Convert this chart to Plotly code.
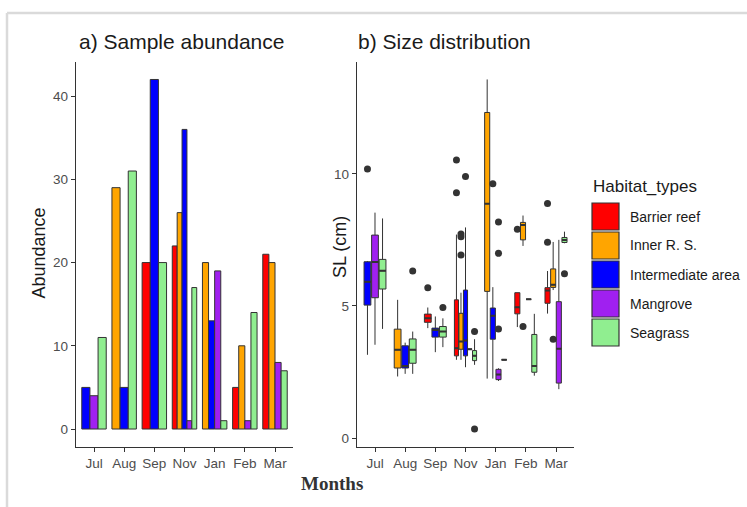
import plotly.graph_objects as go

W, H = 747, 507

months = ["Jul", "Aug", "Sep", "Nov", "Jan", "Feb", "Mar"]
habitats = ["Barrier reef", "Inner R. S.", "Intermediate area", "Mangrove", "Seagrass"]
habitat_colors = ["#FF0000", "#FFA500", "#0000FF", "#A020F0", "#90EE90"]

# Number of individuals sampled per habitat, one value per month
abund_barrier = [0, 0, 20, 22, 0, 5, 21]
abund_inner = [0, 29, 0, 26, 20, 10, 20]
abund_intermediate = [5, 5, 42, 36, 13, 0, 0]
abund_mangrove = [4, 0, 0, 1, 19, 1, 8]
abund_seagrass = [11, 31, 20, 17, 1, 14, 7]

# Standard length (cm) summary per month / habitat
box_month = ["Jul", "Jul", "Jul",
             "Aug", "Aug", "Aug",
             "Sep", "Sep", "Sep",
             "Nov", "Nov", "Nov", "Nov", "Nov",
             "Jan", "Jan", "Jan", "Jan",
             "Feb", "Feb", "Feb", "Feb",
             "Mar", "Mar", "Mar", "Mar"]
box_habitat = ["Intermediate area", "Mangrove", "Seagrass",
               "Inner R. S.", "Intermediate area", "Seagrass",
               "Barrier reef", "Intermediate area", "Seagrass",
               "Barrier reef", "Inner R. S.", "Intermediate area", "Mangrove", "Seagrass",
               "Inner R. S.", "Intermediate area", "Mangrove", "Seagrass",
               "Barrier reef", "Inner R. S.", "Mangrove", "Seagrass",
               "Barrier reef", "Inner R. S.", "Mangrove", "Seagrass"]
box_lower = [3.15, 3.53, 4.13,
             2.33, 2.43, 2.43,
             4.16, 3.25, 3.44,
             2.96, 2.96, 2.68, 3.36, 2.77,
             2.25, 2.25, 2.16, 2.96,
             4.20, 7.27, 5.25, 2.36,
             4.71, 5.60, 1.85, 7.37]
box_q1 = [5.03, 5.31, 5.64,
          2.65, 2.65, 2.83,
          4.38, 3.82, 3.82,
          3.11, 3.36, 3.11, 3.36, 2.93,
          5.55, 3.74, 2.21, 2.96,
          4.70, 7.50, 5.25, 2.49,
          5.10, 5.70, 2.08, 7.40]
box_median = [5.91, 6.66, 6.33,
              3.34, 2.73, 3.34,
              4.53, 4.09, 4.03,
              3.40, 3.65, 3.69, 3.36, 3.11,
              8.87, 4.63, 2.40, 2.96,
              4.95, 8.06, 5.25, 2.73,
              5.58, 5.80, 3.38, 7.49]
box_q3 = [6.67, 7.68, 6.76,
          4.12, 3.49, 3.75,
          4.69, 4.16, 4.22,
          5.23, 4.72, 5.60, 3.36, 3.31,
          12.32, 4.92, 2.60, 2.96,
          5.50, 8.16, 5.25, 3.92,
          5.69, 6.40, 5.16, 7.59]
box_upper = [6.70, 8.53, 8.31,
             5.23, 3.61, 4.03,
             4.94, 4.60, 4.53,
             7.70, 5.50, 7.97, 3.36, 3.74,
             13.57, 5.71, 2.64, 2.96,
             5.50, 8.42, 5.25, 4.70,
             6.32, 7.42, 7.50, 7.81]

# Outlying fish lengths (cm)
out_month = ["Jul", "Aug", "Sep", "Sep",
             "Nov", "Nov", "Nov", "Nov", "Nov", "Nov", "Nov", "Nov",
             "Jan", "Jan", "Jan", "Jan",
             "Feb", "Feb",
             "Mar", "Mar", "Mar", "Mar"]
out_habitat = ["Intermediate area", "Seagrass", "Barrier reef", "Seagrass",
               "Barrier reef", "Barrier reef", "Inner R. S.", "Inner R. S.", "Inner R. S.",
               "Intermediate area", "Seagrass", "Seagrass",
               "Intermediate area", "Mangrove", "Mangrove", "Mangrove",
               "Barrier reef", "Inner R. S.",
               "Barrier reef", "Barrier reef", "Inner R. S.", "Seagrass"]
out_value = [10.18, 6.32, 5.69, 4.94,
             10.52, 9.28, 7.62, 7.72, 6.93,
             9.90, 4.03, 0.34,
             9.62, 8.18, 6.99, 4.13,
             7.90, 4.22,
             8.88, 7.41, 3.74, 6.22]

AXIS_COL = "#333333"
TICK_COL = "#4D4D4D"
FONT = "Liberation Sans"
BAR_GROUP = 0.81
BOX_GROUP = 0.75

abund = [abund_barrier, abund_inner, abund_intermediate, abund_mangrove, abund_seagrass]

fig = go.Figure()

# ---- a) dodged bars: only habitats present in a month share its slot
bar_x = [[] for _ in habitats]
bar_y = [[] for _ in habitats]
bar_w = [[] for _ in habitats]
for m in range(len(months)):
    present = [h for h in range(len(habitats)) if abund[h][m] > 0]
    n = len(present)
    for i, h in enumerate(present):
        bar_x[h].append(m - BAR_GROUP / 2 + (i + 0.5) * BAR_GROUP / n)
        bar_y[h].append(abund[h][m])
        bar_w[h].append(BAR_GROUP / n)

for h, name in enumerate(habitats):
    fig.add_trace(go.Bar(
        x=bar_x[h], y=bar_y[h], width=bar_w[h], name=name,
        marker=dict(color=habitat_colors[h], line=dict(color=AXIS_COL, width=1)),
        xaxis="x", yaxis="y", showlegend=False,
    ))

# ---- b) dodged boxplots
box_pos = {}
box_width = {}
for m_idx, mon in enumerate(months):
    groups = [box_habitat[k] for k in range(len(box_month)) if box_month[k] == mon]
    groups.sort(key=habitats.index)
    n = len(groups)
    for i, hab in enumerate(groups):
        box_pos[(mon, hab)] = m_idx - BOX_GROUP / 2 + (i + 0.5) * BOX_GROUP / n
        box_width[(mon, hab)] = BOX_GROUP / n * 0.9

med_x, med_y = [], []
for k in range(len(box_month)):
    key = (box_month[k], box_habitat[k])
    col = habitat_colors[habitats.index(box_habitat[k])]
    pos, w = box_pos[key], box_width[key]
    fig.add_trace(go.Box(
        x=[pos], q1=[box_q1[k]], median=[box_median[k]], q3=[box_q3[k]],
        lowerfence=[box_lower[k]], upperfence=[box_upper[k]],
        width=w, fillcolor=col, line=dict(color=AXIS_COL, width=1),
        whiskerwidth=0, boxpoints=False, name=box_habitat[k],
        xaxis="x2", yaxis="y2", showlegend=False,
    ))
    med_x += [pos - w / 2, pos + w / 2, None]
    med_y += [box_median[k], box_median[k], None]

fig.add_trace(go.Scatter(
    x=med_x, y=med_y, mode="lines", line=dict(color=AXIS_COL, width=2),
    xaxis="x2", yaxis="y2", showlegend=False, hoverinfo="skip",
))

fig.add_trace(go.Scatter(
    x=[box_pos[(m, h)] for m, h in zip(out_month, out_habitat)], y=out_value,
    mode="markers", marker=dict(color=AXIS_COL, size=7),
    xaxis="x2", yaxis="y2", showlegend=False,
))

# ---- axes
y_dom = [1 - 446.5 / H, 1 - 62 / H]
common_x = dict(
    range=[-0.6, 6.6], tickmode="array", tickvals=list(range(len(months))), ticktext=months,
    showline=True, linecolor=AXIS_COL, linewidth=1.2, ticks="outside", ticklen=4,
    tickcolor=AXIS_COL, tickwidth=1.2, showgrid=False, zeroline=False,
    tickfont=dict(family=FONT, size=13.5, color=TICK_COL),
)
common_y = dict(
    showline=True, linecolor=AXIS_COL, linewidth=1.2, ticks="outside", ticklen=4,
    tickcolor=AXIS_COL, tickwidth=1.2, showgrid=False, zeroline=False,
    tickfont=dict(family=FONT, size=13.5, color=TICK_COL), domain=y_dom,
)
fig.update_layout(
    width=W, height=H, margin=dict(l=0, r=0, t=0, b=0),
    paper_bgcolor="white", plot_bgcolor="white",
    barmode="overlay", boxmode="overlay", showlegend=False,
    xaxis=dict(domain=[75.9 / W, 293.1 / W], anchor="y", **common_x),
    yaxis=dict(range=[-2.1, 44.1], tickvals=[0, 10, 20, 30, 40], anchor="x", **common_y),
    xaxis2=dict(domain=[356.9 / W, 574.1 / W], anchor="y2", **common_x),
    yaxis2=dict(range=[-0.32, 14.23], tickvals=[0, 5, 10], anchor="x2", **common_y),
)

ann = []
def label(text, x, y, size, color="#1A1A1A", xanchor="left", angle=0, family=FONT):
    ann.append(dict(text=text, x=x / W, y=1 - y / H, xref="paper", yref="paper",
                    xanchor=xanchor, yanchor="middle", showarrow=False, textangle=angle,
                    font=dict(family=family, size=size, color=color)))

label("a) Sample abundance", 77, 42, 21)
label("b) Size distribution", 356, 42, 21)
label("Abundance", 38.5, 253, 18, xanchor="center", angle=-90)
label("SL (cm)", 340, 247, 18, xanchor="center", angle=-90)
label("<b>Months</b>", 332, 483, 19, color="#333333", xanchor="center",
      family="Liberation Serif")

# legend: title, colour keys and labels
label("Habitat_types", 591, 186, 17)
shapes = []
for i, (name, col) in enumerate(zip(habitats, habitat_colors)):
    top = 203 + 29 * i
    shapes.append(dict(type="rect", xref="paper", yref="paper",
                       x0=592 / W, x1=619 / W, y0=1 - (top + 27) / H, y1=1 - top / H,
                       fillcolor=col, line=dict(color=AXIS_COL, width=1.2)))
    label(name, 628, top + 13.5, 14)

# light frame around the figure
frame = "#DADADA"
shapes.append(dict(type="line", xref="paper", yref="paper", x0=7 / W, x1=1,
                   y0=1 - 13 / H, y1=1 - 13 / H, line=dict(color=frame, width=2.5)))
shapes.append(dict(type="line", xref="paper", yref="paper", x0=7 / W, x1=7 / W,
                   y0=0, y1=1 - 13 / H, line=dict(color=frame, width=2.5)))

fig.update_layout(annotations=ann, shapes=shapes)
fig.write_html("out.html")
